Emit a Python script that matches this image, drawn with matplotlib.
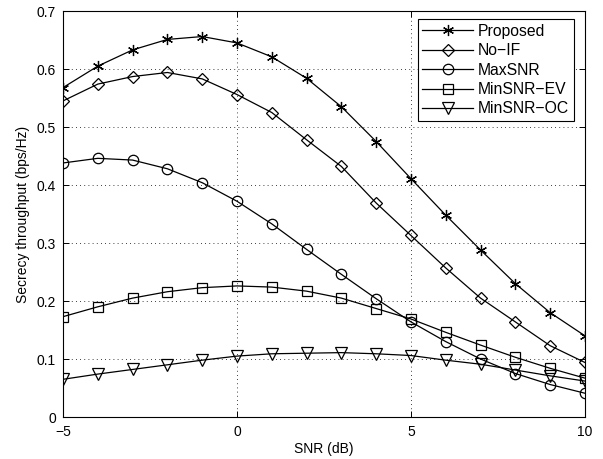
import numpy as np
import matplotlib.pyplot as plt

plt.rcParams['font.family'] = ['Liberation Sans', 'DejaVu Sans']

snr_db = [-5, -4, -3, -2, -1, 0, 1, 2, 3, 4, 5, 6, 7, 8, 9, 10]

proposed = [0.568, 0.605, 0.633, 0.651, 0.656, 0.645, 0.621, 0.584, 0.535, 0.475,
            0.411, 0.348, 0.288, 0.230, 0.180, 0.140]
no_if = [0.545, 0.574, 0.587, 0.594, 0.583, 0.556, 0.525, 0.478, 0.432, 0.369,
         0.313, 0.257, 0.205, 0.164, 0.123, 0.094]
max_snr = [0.438, 0.446, 0.443, 0.428, 0.404, 0.372, 0.333, 0.289, 0.246, 0.204,
           0.164, 0.130, 0.100, 0.075, 0.056, 0.041]
min_snr_ev = [0.173, 0.190, 0.205, 0.216, 0.223, 0.226, 0.224, 0.217, 0.205, 0.187,
              0.169, 0.146, 0.124, 0.103, 0.084, 0.067]
min_snr_oc = [0.065, 0.074, 0.082, 0.090, 0.098, 0.105, 0.109, 0.110, 0.111, 0.109,
              0.106, 0.098, 0.091, 0.081, 0.071, 0.062]

series = [
    ('Proposed', proposed, (6, 2, 0), 8),
    ('No\u2212IF', no_if, 'D', 6),
    ('MaxSNR', max_snr, 'o', 7.5),
    ('MinSNR\u2212EV', min_snr_ev, 's', 6.5),
    ('MinSNR\u2212OC', min_snr_oc, 'v', 8),
]

fig = plt.figure(figsize=(6.03, 4.59), dpi=100)
ax = fig.add_axes([0.1045, 0.0915, 0.8655, 0.8845])

for name, vals, mk, ms in series:
    ax.plot(snr_db, vals, color='black', lw=0.9, marker=mk, markersize=ms,
            markerfacecolor='none', markeredgecolor='black', markeredgewidth=0.9,
            label=name)

ax.set_xlim(-5, 10)
ax.set_ylim(0, 0.7)
ax.set_xticks([-5, 0, 5, 10])
ax.set_yticks(np.arange(0, 0.71, 0.1))
ax.set_yticklabels(['0', '0.1', '0.2', '0.3', '0.4', '0.5', '0.6', '0.7'])
ax.tick_params(direction='in', top=True, right=True, labelsize=10, length=4, width=0.7)
ax.tick_params(axis='x', pad=6)
ax.tick_params(axis='y', pad=5)
ax.grid(True, color='black', linestyle=(0, (1, 4)), linewidth=0.6)
for sp in ax.spines.values():
    sp.set_linewidth(0.8)

ax.set_xlabel('SNR (dB)', fontsize=10, labelpad=2)
ax.set_ylabel('Secrecy throughput (bps/Hz)', fontsize=10, labelpad=5)

leg = ax.legend(loc='upper right', bbox_to_anchor=(0.979, 0.980), fontsize=11.3,
                fancybox=False, framealpha=1, edgecolor='black', handlelength=3.2,
                borderpad=0.3, labelspacing=0.28, handletextpad=0.35,
                borderaxespad=0)
leg.get_frame().set_linewidth(0.8)

fig.savefig('out.png', dpi=100)
